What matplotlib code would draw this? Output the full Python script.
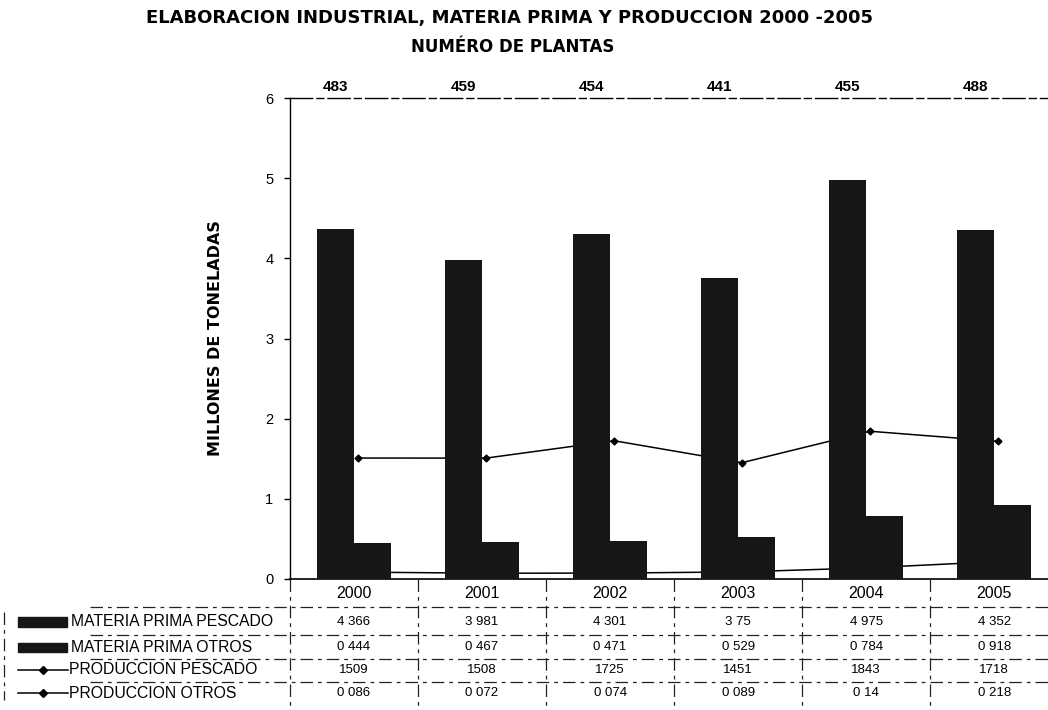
import numpy as np
import matplotlib
matplotlib.use("Agg")
import matplotlib.pyplot as plt
from matplotlib.transforms import blended_transform_factory, offset_copy
from matplotlib.lines import Line2D
from matplotlib.patches import Rectangle

# --- data -------------------------------------------------------------
years = ["2000", "2001", "2002", "2003", "2004", "2005"]
plantas = ["483", "459", "454", "441", "455", "488"]
mp_pescado = [4.366, 3.981, 4.301, 3.75, 4.975, 4.352]
mp_otros = [0.444, 0.467, 0.471, 0.529, 0.784, 0.918]
prod_pescado = [1.509, 1.508, 1.725, 1.451, 1.843, 1.718]
prod_otros = [0.086, 0.072, 0.074, 0.089, 0.14, 0.218]
row_names = ["MATERIA PRIMA PESCADO", "MATERIA PRIMA OTROS",
             "PRODUCCION PESCADO", "PRODUCCION OTROS"]
y_ticks = [0, 1, 2, 3, 4, 5, 6]

W, H = 1048, 710
INK = "#161616"


def fx(px):
    return px / W


def fy(py):
    return 1 - py / H


def fmt(v, sep=" "):
    return f"{v:g}".replace(".", sep)


plt.rcParams["font.family"] = ["Liberation Sans", "DejaVu Sans"]

fig = plt.figure(figsize=(W / 100, H / 100), dpi=100)
ax = fig.add_axes([fx(290), fy(579), fx(1048) - fx(290), fy(98) - fy(579)])

x = np.arange(len(years))
w = 0.29

# lines sit behind the bars
ax.plot(x + 0.03, prod_pescado, color="black", lw=1.1, marker="D", ms=3.5, zorder=2)
ax.plot(x + 0.03, prod_otros, color="black", lw=1.1, marker="D", ms=3.5, zorder=2)
ax.bar(x - w / 2, mp_pescado, w, color=INK, zorder=3)
ax.bar(x + w / 2, mp_otros, w, color=INK, zorder=3)

ax.set_xlim(-0.5, 5.42)
ax.set_ylim(0, 6)
ax.set_yticks(y_ticks)
ax.set_yticklabels([str(t) for t in y_ticks], fontsize=10.5)
ax.set_xticks([])
ax.tick_params(axis="y", direction="out", length=4, width=1, pad=8)
ax.spines["right"].set_visible(False)
ax.spines["top"].set_linestyle((0, (16, 3, 5, 3)))
ax.spines["top"].set_linewidth(1.0)
ax.spines["left"].set_linewidth(1.0)
ax.spines["bottom"].set_linewidth(1.2)

# number of plants above each year
top_tr = offset_copy(ax.transData, fig=fig, x=0, y=4, units="dots")
for xi, s in zip(x, plantas):
    ax.text(xi - w / 2, 6, s, transform=top_tr, ha="center", va="bottom",
            fontsize=11, fontweight="bold", clip_on=False)

ax.set_ylabel("MILLONES DE TONELADAS", fontsize=11.5, fontweight="bold",
              family=["DejaVu Sans"], labelpad=30)

# titles
fig.text(fx(510), fy(18), "ELABORACION INDUSTRIAL, MATERIA PRIMA Y PRODUCCION 2000 -2005",
         ha="center", va="center", fontsize=13, fontweight="bold",
         family=["DejaVu Sans"])
fig.text(fx(513), fy(47), "NUMÉRO DE PLANTAS", ha="center", va="center",
         fontsize=12, fontweight="bold", family=["DejaVu Sans"])

# --- data table under the axis --------------------------------------
tbl = blended_transform_factory(ax.transData, fig.transFigure)
row_y = [622, 647, 670, 693]
series = [mp_pescado, mp_otros, prod_pescado, prod_otros]
seps = [" ", " ", "", " "]

for xi, yr in zip(x, years):
    ax.text(xi, fy(593), yr, transform=tbl, ha="center", va="center",
            fontsize=11.5, clip_on=False)

for ry, vals, sep in zip(row_y, series, seps):
    for xi, v in zip(x, vals):
        ax.text(xi, fy(ry), fmt(v, sep), transform=tbl, ha="center", va="center",
                fontsize=9.5, clip_on=False)

# row labels with legend keys
for i, (ry, name) in enumerate(zip(row_y, row_names)):
    if i < 2:
        fig.add_artist(Rectangle((fx(18), fy(ry + 4.5)), fx(67) - fx(18),
                                 fy(ry - 4.5) - fy(ry + 4.5), color=INK,
                                 transform=fig.transFigure))
        tx = 71
    else:
        fig.add_artist(Line2D([fx(18), fx(68)], [fy(ry), fy(ry)], color="black",
                              lw=1.1, transform=fig.transFigure))
        fig.add_artist(Line2D([fx(43)], [fy(ry)], color="black", marker="D", ms=4,
                              transform=fig.transFigure))
        tx = 69
    fig.text(fx(tx), fy(ry), name, ha="left", va="center", fontsize=11.3)

# table rules
grid_kw = dict(color="#222222", lw=0.9, linestyle=(0, (10, 4, 3, 4)),
               transform=fig.transFigure)
for hy in [607, 635, 659, 682]:
    fig.add_artist(Line2D([fx(90), fx(1048)], [fy(hy), fy(hy)], **grid_kw))
for b in np.arange(-0.5, 5.0, 1.0):
    px = 290 + (b + 0.5) * (1048 - 290) / 5.92
    fig.add_artist(Line2D([fx(px), fx(px)], [fy(579), fy(710)], **grid_kw))
fig.add_artist(Line2D([fx(4), fx(4)], [fy(612), fy(700)], **grid_kw))

fig.savefig("out.png", dpi=100)
